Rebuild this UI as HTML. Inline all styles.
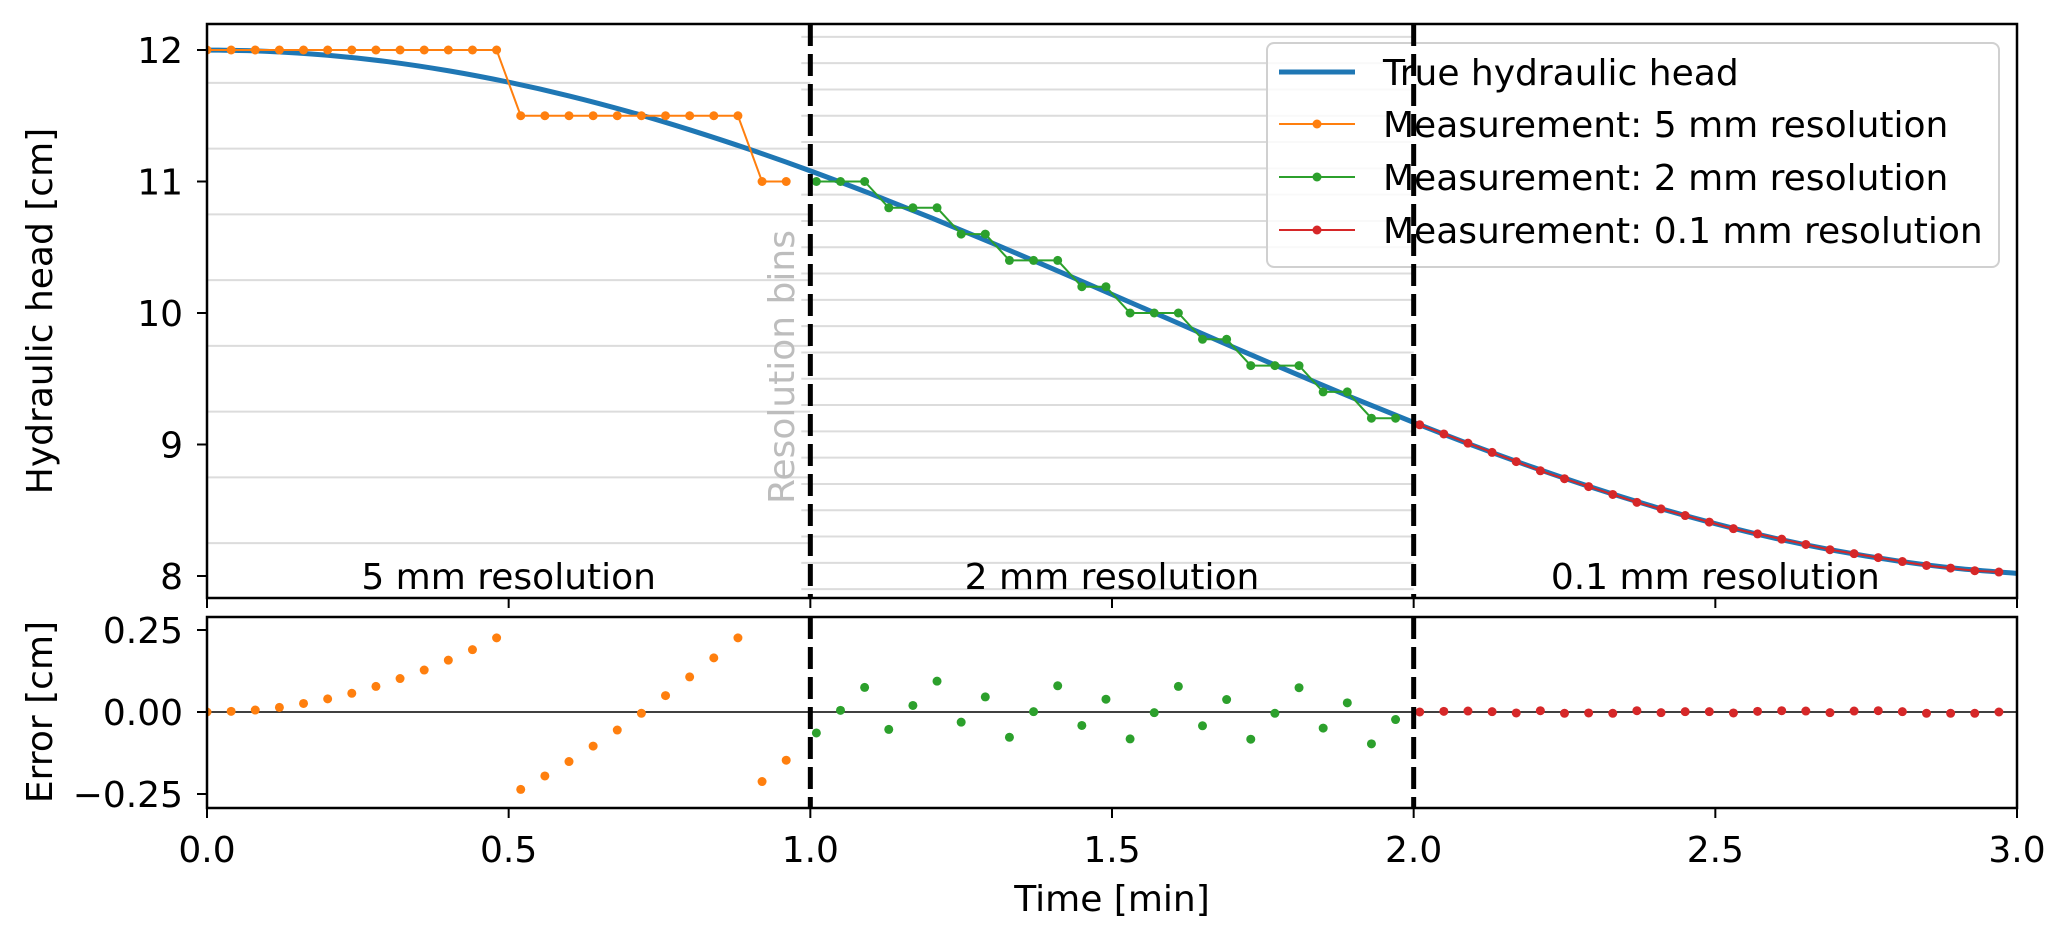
<!DOCTYPE html>
<html><head><meta charset="utf-8"><style>
html,body{margin:0;padding:0;background:#fff;}
svg{display:block;font-family:"DejaVu Sans","Liberation Sans",sans-serif;}
</style></head><body>
<svg id="fig" width="2067" height="938" viewBox="0 0 2067 938">
<g id="topPanel"></g>
<g id="botPanel"></g>
</svg>
<script>
// ---- data ----
const trueT = [0,0.1,0.2,0.3,0.4,0.5,0.6,0.7,0.8,0.9,1.0,1.1,1.2,1.3,1.4,1.5,1.6,1.7,1.8,1.9,2.0,2.1,2.2,2.3,2.4,2.5,2.6,2.7,2.8,2.9,3.0];
const trueH = [12,11.990,11.960,11.911,11.842,11.755,11.651,11.530,11.393,11.243,11.081,10.907,10.725,10.535,10.340,10.141,9.942,9.742,9.546,9.353,9.168,8.990,8.823,8.667,8.525,8.398,8.286,8.192,8.116,8.058,8.020];
const t5 = [0,0.04,0.08,0.12,0.16,0.2,0.24,0.28,0.32,0.36,0.4,0.44,0.48,0.52,0.56,0.6,0.64,0.68,0.72,0.76,0.8,0.84,0.88,0.92,0.96];
const h5 = [12,12,12,12,12,12,12,12,12,12,12,12,12,11.5,11.5,11.5,11.5,11.5,11.5,11.5,11.5,11.5,11.5,11,11];
const e5 = [0,0.002,0.006,0.014,0.026,0.040,0.057,0.078,0.102,0.128,0.158,0.190,0.226,-0.236,-0.195,-0.151,-0.104,-0.055,-0.004,0.050,0.107,0.165,0.226,-0.212,-0.147];
const t2 = [1.01,1.05,1.09,1.13,1.17,1.21,1.25,1.29,1.33,1.37,1.41,1.45,1.49,1.53,1.57,1.61,1.65,1.69,1.73,1.77,1.81,1.85,1.89,1.93,1.97];
const h2 = [11,11,11,10.8,10.8,10.8,10.6,10.6,10.4,10.4,10.4,10.2,10.2,10,10,10,9.8,9.8,9.6,9.6,9.6,9.4,9.4,9.2,9.2];
const e2 = [-0.064,0.005,0.075,-0.053,0.020,0.094,-0.031,0.046,-0.077,0.001,0.080,-0.041,0.039,-0.082,-0.002,0.078,-0.042,0.038,-0.083,-0.004,0.074,-0.049,0.028,-0.097,-0.023];
const t01 = [2.01,2.05,2.09,2.13,2.17,2.21,2.25,2.29,2.33,2.37,2.41,2.45,2.49,2.53,2.57,2.61,2.65,2.69,2.73,2.77,2.81,2.85,2.89,2.93,2.97];
const h01 = [9.15,9.08,9.01,8.94,8.87,8.80,8.74,8.68,8.62,8.56,8.51,8.46,8.41,8.36,8.32,8.28,8.24,8.20,8.17,8.14,8.11,8.08,8.06,8.04,8.03];
const e01 = [0.000,0.002,0.003,0.001,-0.003,0.004,-0.004,-0.003,-0.004,0.004,-0.002,0.001,0.001,-0.003,0.002,0.004,0.003,-0.002,0.003,0.004,0.001,-0.004,-0.004,-0.004,0.000];
const xTicks = [0,0.5,1.0,1.5,2.0,2.5,3.0];
const xTickLabels = ["0.0","0.5","1.0","1.5","2.0","2.5","3.0"];
const yTicks = [8,9,10,11,12];
const eTicks = [0.25,0,-0.25];
const eTickLabels = ["0.25","0.00","\u22120.25"];
const bins5 = [11.75,11.25,10.75,10.25,9.75,9.25,8.75,8.25];
const bins2 = [12.1,11.9,11.7,11.5,11.3,11.1,10.9,10.7,10.5,10.3,10.1,9.9,9.7,9.5,9.3,9.1,8.9,8.7,8.5,8.3,8.1,7.9];

// ---- layout ----
const L=207,R=2017,T1=24,B1=598,T2=617,B2=808;
const FS=36;
const X=t=>L+(R-L)*t/3;
const Y=h=>50+(12-h)*131.5;
const YE=e=>712-e*328;
const NS="http://www.w3.org/2000/svg";
const fig=document.getElementById('fig');
const topG=document.getElementById('topPanel'), botG=document.getElementById('botPanel');
function mk(p,tag,a){const e=document.createElementNS(NS,tag);for(const k in a)e.setAttribute(k,a[k]);p.appendChild(e);return e;}
function txt(p,x,y,s,a){const e=mk(p,'text',Object.assign({x:x,y:y,'font-size':FS,fill:'#000'},a||{}));e.textContent=s;return e;}

const defs=mk(fig,'defs',{});
const c1=mk(defs,'clipPath',{id:'c1'});mk(c1,'rect',{x:L,y:T1,width:R-L,height:B1-T1});
const c2=mk(defs,'clipPath',{id:'c2'});mk(c2,'rect',{x:L,y:T2,width:R-L,height:B2-T2});
const g1=mk(topG,'g',{'clip-path':'url(#c1)'});
const g2=mk(botG,'g',{'clip-path':'url(#c2)'});

bins5.forEach(v=>{const l=mk(g1,'line',{x1:X(0),x2:X(1),y1:Y(v),y2:Y(v),stroke:'#dcdcdc','stroke-width':2});

});
bins2.forEach(v=>{const l=mk(g1,'line',{x1:X(0.985),x2:X(2),y1:Y(v),y2:Y(v),stroke:'#dcdcdc','stroke-width':2});

});

const rb=txt(g1,0,0,'Resolution bins',{fill:'#bdbdbd','text-anchor':'middle',transform:`translate(${X(0.953)+12},367) rotate(-90)`});



function smooth(xs,ys){const P=xs.map((x,i)=>[X(x),Y(ys[i])]);let d=`M${P[0][0]},${P[0][1]}`;
for(let i=0;i<P.length-1;i++){const p0=P[Math.max(0,i-1)],p1=P[i],p2=P[i+1],p3=P[Math.min(P.length-1,i+2)];
d+=` C${p1[0]+(p2[0]-p0[0])/6},${p1[1]+(p2[1]-p0[1])/6} ${p2[0]-(p3[0]-p1[0])/6},${p2[1]-(p3[1]-p1[1])/6} ${p2[0]},${p2[1]}`;}return d;}
const tc=mk(g1,'path',{d:smooth(trueT,trueH),fill:'none',stroke:'#1f77b4','stroke-width':5});



function series(ts,hs,col,name){
  const pl=mk(g1,'polyline',{points:ts.map((t,i)=>X(t)+','+Y(hs[i])).join(' '),fill:'none',stroke:col,'stroke-width':2});
  
  
  ts.forEach((t,i)=>{const c=mk(g1,'circle',{cx:X(t),cy:Y(hs[i]),r:4.5,fill:col});
  
  });
}
series(t5,h5,'#ff7f0e','measurement-5mm');
series(t2,h2,'#2ca02c','measurement-2mm');
series(t01,h01,'#d62728','measurement-01mm');

[['5 mm resolution',0.5],['2 mm resolution',1.5],['0.1 mm resolution',2.5]].forEach(([s,t])=>{
 const e=txt(topG,X(t),589,s,{'text-anchor':'middle'});
 
 });

const zl=mk(g2,'line',{x1:L,x2:R,y1:YE(0),y2:YE(0),stroke:'#000','stroke-width':1.5});


function dots(ts,es,col,name){ts.forEach((t,i)=>{const c=mk(g2,'circle',{cx:X(t),cy:YE(es[i]),r:4.5,fill:col});
 
 });}
dots(t5,e5,'#ff7f0e','error-5mm-point');
dots(t2,e2,'#2ca02c','error-2mm-point');
dots(t01,e01,'#d62728','error-01mm-point');

[1,2].forEach(t=>{[[T1,B1],[T2,B2]].forEach(([a,b])=>{const l=mk(fig,'line',{x1:X(t),x2:X(t),y1:a,y2:b,stroke:'#000','stroke-width':5,'stroke-dasharray':'22 8'});
 
 });});

[[T1,B1,topG],[T2,B2,botG]].forEach(([a,b,p])=>{const r=mk(p,'rect',{x:L,y:a,width:R-L,height:b-a,fill:'none',stroke:'#000','stroke-width':2.5});
 
 });

xTicks.forEach((t,i)=>{
 mk(topG,'line',{x1:X(t),x2:X(t),y1:B1,y2:B1+10,stroke:'#000','stroke-width':2});
 mk(botG,'line',{x1:X(t),x2:X(t),y1:B2,y2:B2+10,stroke:'#000','stroke-width':2});
 const e=txt(botG,X(t),862,xTickLabels[i],{'text-anchor':'middle'});
 
 });
yTicks.forEach(v=>{mk(topG,'line',{x1:L-10,x2:L,y1:Y(v),y2:Y(v),stroke:'#000','stroke-width':2});
 const e=txt(topG,183,Y(v)+13,String(v),{'text-anchor':'end'});
 
 });
eTicks.forEach((v,i)=>{mk(botG,'line',{x1:L-10,x2:L,y1:YE(v),y2:YE(v),stroke:'#000','stroke-width':2});
 const e=txt(botG,183,YE(v)+13,eTickLabels[i],{'text-anchor':'end'});
 
 });

const xt=txt(botG,X(1.5),911,'Time [min]',{'text-anchor':'middle'});


const yt=txt(topG,0,0,'Hydraulic head [cm]',{'text-anchor':'middle',transform:'translate(52,311) rotate(-90)'});


const et=txt(botG,0,0,'Error [cm]',{'text-anchor':'middle',transform:'translate(52,712) rotate(-90)'});



const lg=mk(topG,'g',{});


mk(lg,'rect',{x:1267,y:43,width:732,height:224,rx:7,fill:'rgba(255,255,255,0.82)',stroke:'#d0d0d0','stroke-width':2});
const legItems=[['True hydraulic head','#1f77b4',false],['Measurement: 5 mm resolution','#ff7f0e',true],['Measurement: 2 mm resolution','#2ca02c',true],['Measurement: 0.1 mm resolution','#d62728',true]];
const legY=[72,124,177,230];
legItems.forEach(([s,c,m],i)=>{const y=legY[i];
 const it=mk(lg,'g',{});
 
 
 mk(it,'line',{x1:1279,x2:1355,y1:y,y2:y,stroke:c,'stroke-width':m?2:5});
 if(m)mk(it,'circle',{cx:1317,cy:y,r:4.5,fill:c});
 txt(it,1383,y+13,s);});
</script>
</body></html>
